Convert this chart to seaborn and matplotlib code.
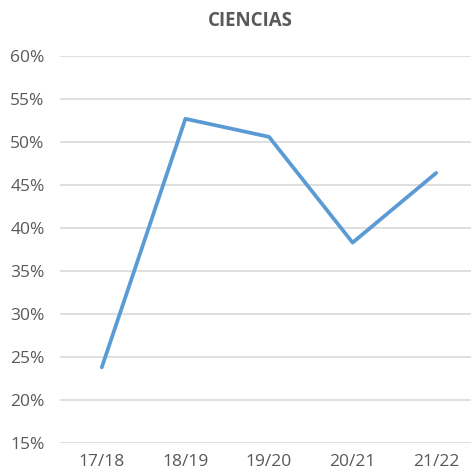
import matplotlib
matplotlib.use("Agg")
import matplotlib.pyplot as plt
import seaborn as sns
import pandas as pd
from matplotlib.ticker import FuncFormatter

years = ["17/18", "18/19", "19/20", "20/21", "21/22"]
values = [23.8, 52.7, 50.6, 38.3, 46.4]
title = "CIENCIAS"

sns.set_theme(style="white")
plt.rcParams['font.family'] = ['Open Sans', 'DejaVu Sans']

df = pd.DataFrame({"year": years, "value": values})

fig = plt.figure(figsize=(4.71, 4.73), dpi=100)
ax = fig.add_axes([60/471, 30/473, (478-60)/471, (443-56)/473])

sns.lineplot(data=df, x="year", y="value", ax=ax, color="#5B9BD5", linewidth=2.7, sort=False)

ax.set_ylim(15, 60)
ax.set_xlim(-0.5, 4.5)
ax.set_yticks(range(15, 61, 5))
ax.yaxis.set_major_formatter(FuncFormatter(lambda v, p: f"{int(v)}%"))
ax.grid(axis="y", color="#D9D9D9", linewidth=1.2)
ax.set_axisbelow(True)
for s in ax.spines.values():
    s.set_visible(False)
ax.tick_params(axis="both", length=0, labelsize=12.5, colors="#595959")
ax.tick_params(axis="y", pad=11)
ax.tick_params(axis="x", pad=8)
ax.set_xlabel("")
ax.set_ylabel("")

fig.text(250/471, 1 - 21/473, title, ha="center", va="center", fontsize=13.5,
         fontweight="bold", color="#595959")

fig.savefig("out.png", dpi=100)
